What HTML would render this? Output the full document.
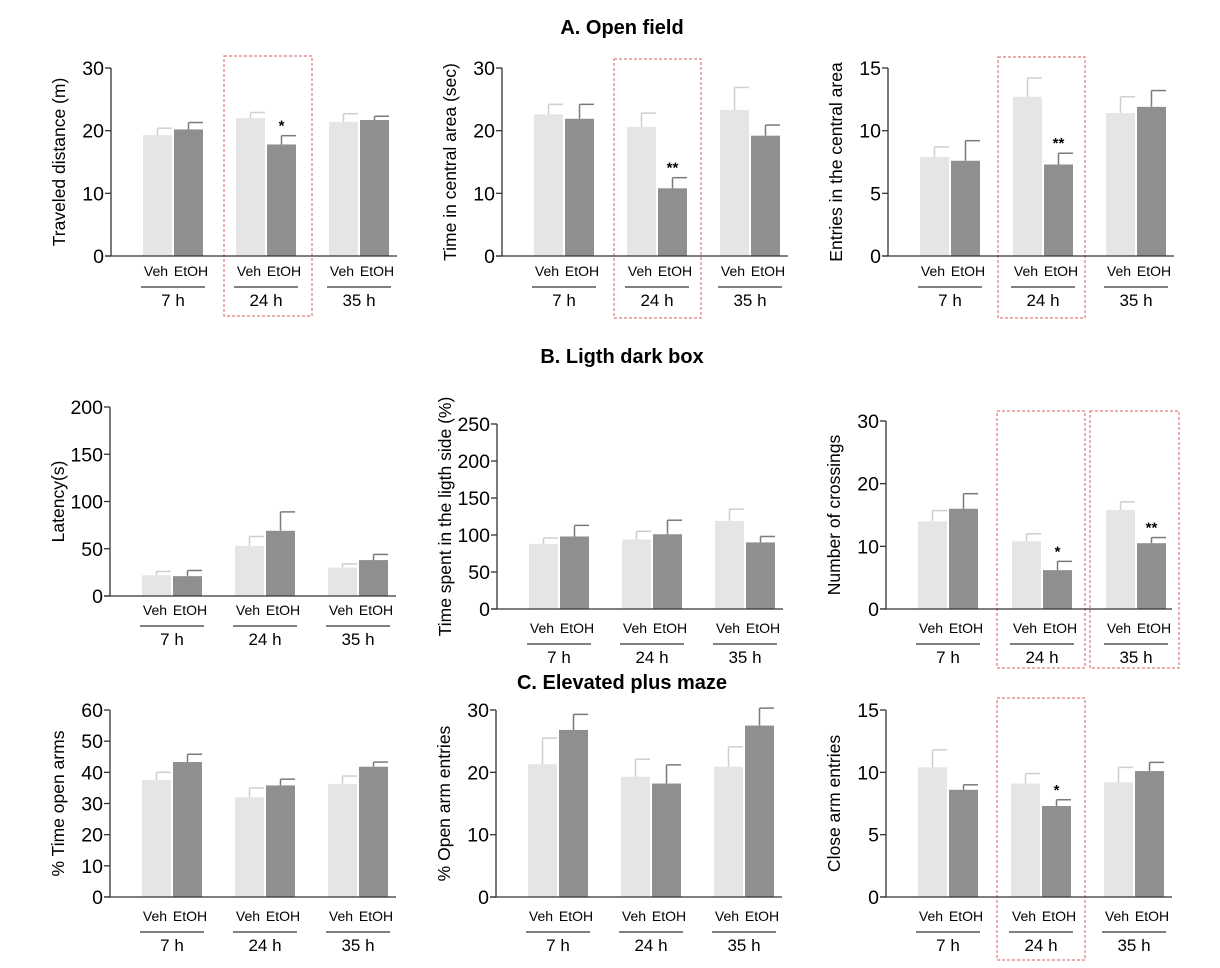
<!DOCTYPE html>
<html><head><meta charset="utf-8">
<style>
html,body{margin:0;padding:0;background:#fff;}
svg{display:block;font-family:"Liberation Sans",Arial,sans-serif;}
</style></head>
<body>
<svg id="fig" width="1220" height="968" viewBox="0 0 1220 968" xmlns="http://www.w3.org/2000/svg">
<text x="622" y="34" font-size="20" font-weight="bold" text-anchor="middle">A. Open field</text>
<text x="622" y="363" font-size="20" font-weight="bold" text-anchor="middle">B. Ligth dark box</text>
<text x="622" y="689" font-size="20" font-weight="bold" text-anchor="middle">C. Elevated plus maze</text>
</svg>
<script>
// Categories
const groups = ["7 h", "24 h", "35 h"];
const treatments = ["Veh", "EtOH"];

// Panel A1: traveled distance
const a1Veh = [19.3, 22.0, 21.4];
const a1VehErr = [1.1, 0.9, 1.3];
const a1Etoh = [20.2, 17.8, 21.7];
const a1EtohErr = [1.1, 1.4, 0.6];
const a1Stars = ["", "*", ""];
const a1Ticks = [0, 10, 20, 30];
// Panel A2: time in central area
const a2Veh = [22.6, 20.6, 23.3];
const a2VehErr = [1.6, 2.2, 3.6];
const a2Etoh = [21.9, 10.8, 19.2];
const a2EtohErr = [2.3, 1.7, 1.7];
const a2Stars = ["", "**", ""];
const a2Ticks = [0, 10, 20, 30];
// Panel A3: entries in central area
const a3Veh = [7.9, 12.7, 11.4];
const a3VehErr = [0.8, 1.5, 1.3];
const a3Etoh = [7.6, 7.3, 11.9];
const a3EtohErr = [1.6, 0.9, 1.3];
const a3Stars = ["", "**", ""];
const a3Ticks = [0, 5, 10, 15];
// Panel B1: latency
const b1Veh = [22, 53, 30];
const b1VehErr = [4, 10, 4];
const b1Etoh = [21, 69, 38];
const b1EtohErr = [6, 20, 6];
const b1Stars = ["", "", ""];
const b1Ticks = [0, 50, 100, 150, 200];
// Panel B2: time in light side
const b2Veh = [88, 94, 119];
const b2VehErr = [8, 11, 16];
const b2Etoh = [98, 101, 90];
const b2EtohErr = [15, 19, 8];
const b2Stars = ["", "", ""];
const b2Ticks = [0, 50, 100, 150, 200, 250];
// Panel B3: crossings
const b3Veh = [14.0, 10.8, 15.8];
const b3VehErr = [1.7, 1.2, 1.3];
const b3Etoh = [16.0, 6.2, 10.5];
const b3EtohErr = [2.4, 1.4, 0.9];
const b3Stars = ["", "*", "**"];
const b3Ticks = [0, 10, 20, 30];
// Panel C1: % time open arms
const c1Veh = [37.5, 32.0, 36.3];
const c1VehErr = [2.5, 3.0, 2.5];
const c1Etoh = [43.3, 35.8, 41.8];
const c1EtohErr = [2.5, 2.0, 1.5];
const c1Stars = ["", "", ""];
const c1Ticks = [0, 10, 20, 30, 40, 50, 60];
// Panel C2: % open arm entries
const c2Veh = [21.3, 19.3, 20.9];
const c2VehErr = [4.2, 2.8, 3.2];
const c2Etoh = [26.8, 18.2, 27.5];
const c2EtohErr = [2.5, 3.0, 2.8];
const c2Stars = ["", "", ""];
const c2Ticks = [0, 10, 20, 30];
// Panel C3: close arm entries
const c3Veh = [10.4, 9.1, 9.2];
const c3VehErr = [1.4, 0.8, 1.2];
const c3Etoh = [8.6, 7.3, 10.1];
const c3EtohErr = [0.4, 0.5, 0.7];
const c3Stars = ["", "*", ""];
const c3Ticks = [0, 5, 10, 15];

const NS = "http://www.w3.org/2000/svg";
const svg = document.getElementById("fig");
function mk(tag, attrs, parent) {
  const e = document.createElementNS(NS, tag);
  for (const k in attrs) e.setAttribute(k, attrs[k]);
  (parent || svg).appendChild(e);
  return e;
}

const panels = [
  {id:"traveled-distance", title:"Traveled distance (m)", ax:111, top:68, zero:256, veh:a1Veh, vehE:a1VehErr, et:a1Etoh, etE:a1EtohErr, stars:a1Stars, ticks:a1Ticks, lab:270, sp:93},
  {id:"time-central-area", title:"Time in central area (sec)", ax:502, top:68, zero:256, veh:a2Veh, vehE:a2VehErr, et:a2Etoh, etE:a2EtohErr, stars:a2Stars, ticks:a2Ticks, lab:270, sp:93},
  {id:"entries-central-area", title:"Entries in the central area", ax:888, top:68, zero:256, veh:a3Veh, vehE:a3VehErr, et:a3Etoh, etE:a3EtohErr, stars:a3Stars, ticks:a3Ticks, lab:270, sp:93},
  {id:"latency", title:"Latency(s)", ax:110, top:407, zero:596, veh:b1Veh, vehE:b1VehErr, et:b1Etoh, etE:b1EtohErr, stars:b1Stars, ticks:b1Ticks, lab:609, sp:93},
  {id:"time-light-side", title:"Time spent in the ligth side (%)", ax:497, top:424, zero:609, veh:b2Veh, vehE:b2VehErr, et:b2Etoh, etE:b2EtohErr, stars:b2Stars, ticks:b2Ticks, lab:627, sp:93},
  {id:"number-crossings", title:"Number of crossings", ax:886, top:421, zero:609, veh:b3Veh, vehE:b3VehErr, et:b3Etoh, etE:b3EtohErr, stars:b3Stars, ticks:b3Ticks, lab:627, sp:94},
  {id:"time-open-arms", title:"% Time open arms", ax:110, top:710, zero:897, veh:c1Veh, vehE:c1VehErr, et:c1Etoh, etE:c1EtohErr, stars:c1Stars, ticks:c1Ticks, lab:915, sp:93},
  {id:"open-arm-entries", title:"% Open arm entries", ax:496, top:710, zero:897, veh:c2Veh, vehE:c2VehErr, et:c2Etoh, etE:c2EtohErr, stars:c2Stars, ticks:c2Ticks, lab:915, sp:93},
  {id:"close-arm-entries", title:"Close arm entries", ax:886, top:710, zero:897, veh:c3Veh, vehE:c3VehErr, et:c3Etoh, etE:c3EtohErr, stars:c3Stars, ticks:c3Ticks, lab:915, sp:93}
];

// highlight boxes
const boxes = [[224,56,88,260],[614,59,87,259],[998,57,87,261],[997,411,88,257],[1090,411,89,257],[997,698,88,262]];
boxes.forEach(b => {
  const r = mk("rect", {x:b[0], y:b[1], width:b[2], height:b[3], fill:"none", stroke:"#e07a7a", "stroke-width":1.2, "stroke-dasharray":"3,2"});
  
  
});

panels.forEach(p => {
  const g = mk("g", {});
  
  
  const maxV = p.ticks[p.ticks.length - 1];
  const y = v => p.zero - (v / maxV) * (p.zero - p.top);
  const gx = i => p.ax + 62 + i * p.sp;
  const bw = 29;
  groups.forEach((grp, i) => {
    const c = gx(i);
    [[p.veh, p.vehE, c - bw - 1, "#e5e5e5", "#cfcfcf"], [p.et, p.etE, c + 1, "#8f8f8f", "#7a7a7a"]].forEach((s, k) => {
      const v = s[0][i], e = s[1][i], x = s[2];
      const mx = x + bw / 2;
      const el = mk("line", {x1:mx, x2:mx, y1:y(v), y2:y(v + e), stroke:s[4], "stroke-width":1.5}, g);
      
      
      const cap = mk("line", {x1:mx, x2:x + bw, y1:y(v + e), y2:y(v + e), stroke:s[4], "stroke-width":1.5}, g);
      
      
      const r = mk("rect", {x:x, y:y(v), width:bw, height:p.zero - y(v), fill:s[3]}, g);
      
      
      if (k === 1 && p.stars[i]) {
        const st = mk("text", {x:mx, y:y(v + e) - 5, "font-size":15, "font-weight":"bold", "text-anchor":"middle"}, g);
        st.textContent = p.stars[i];
        
        
      }
    });
    const t1 = mk("text", {x:c - 17, y:p.lab + 6, "font-size":14, "text-anchor":"middle"}, g);
    t1.textContent = treatments[0];
    
    
    const t2 = mk("text", {x:c + 18, y:p.lab + 6, "font-size":14, "text-anchor":"middle"}, g);
    t2.textContent = treatments[1];
    
    
    const ul = mk("line", {x1:c - 32, x2:c + 32, y1:p.lab + 17, y2:p.lab + 17, stroke:"#333", "stroke-width":1.2}, g);
    
    
    const gt = mk("text", {x:c, y:p.lab + 36, "font-size":17, "text-anchor":"middle"}, g);
    gt.textContent = grp;
    
    
  });
  const ya = mk("line", {x1:p.ax, x2:p.ax, y1:p.top, y2:p.zero, stroke:"#333", "stroke-width":1.3}, g);
  
  
  const xa = mk("line", {x1:p.ax - 6, x2:p.ax + 286, y1:p.zero, y2:p.zero, stroke:"#333", "stroke-width":1.3}, g);
  
  
  p.ticks.forEach(t => {
    const tk = mk("line", {x1:p.ax - 6, x2:p.ax, y1:y(t), y2:y(t), stroke:"#333", "stroke-width":1.3}, g);
    
    
    const tl = mk("text", {x:p.ax - 7, y:y(t) + 7, "font-size":19.5, "text-anchor":"end"}, g);
    tl.textContent = t;
    
    
  });
  const my = (p.top + p.zero) / 2;
  const yt = mk("text", {x:0, y:0, "font-size":17.5, "text-anchor":"middle", transform:"translate(" + (p.ax - 46) + "," + my + ") rotate(-90)"}, g);
  yt.textContent = p.title;
  
  
});
</script>
</body></html>
